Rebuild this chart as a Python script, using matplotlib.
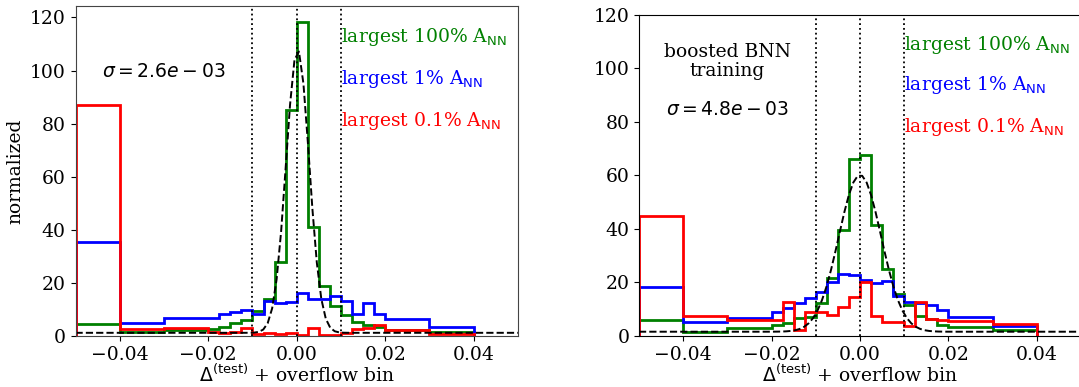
import numpy as np
import matplotlib
matplotlib.use("Agg")
import matplotlib.pyplot as plt

plt.rcParams["font.family"] = "DejaVu Serif"
plt.rcParams["mathtext.fontset"] = "dejavusans"
plt.rcParams["font.size"] = 13.5

# Variable-width bins; the first bin [-0.05, -0.04] collects the overflow
bin_edges = [-0.05, -0.04, -0.03, -0.02, -0.0175, -0.015, -0.0125, -0.01,
             -0.0075, -0.005, -0.0025, 0.0, 0.0025, 0.005, 0.0075, 0.01,
             0.0125, 0.015, 0.0175, 0.02, 0.03, 0.04]

# Standard training
std_all = [4.5, 1.5, 2.2, 2.8, 3.5, 4.8, 6.0, 9.5, 13.8, 28.0, 85.3,
           118.4, 41.2, 18.8, 11.3, 7.9, 5.4, 4.1, 3.5, 2.3, 1.6]
std_top1 = [35.5, 5.0, 6.7, 6.9, 8.1, 8.9, 9.8, 8.2, 13.2, 12.6, 12.7,
            16.3, 13.8, 13.9, 15.1, 13.3, 8.3, 12.3, 8.3, 6.3, 3.3]
std_top01 = [87.2, 2.5, 2.9, 1.6, 1.0, 1.6, 2.9, 0.6, 1.2, 0.6, 1.2,
             0.5, 3.0, 0.5, 0.5, 1.2, 2.5, 3.0, 4.2, 2.2, 0.8]
std_fit = dict(amplitude=106.7, mean=0.0002, sigma=2.6e-3, offset=1.2)

# Boosted BNN training
bst_all = [5.8, 1.5, 2.9, 4.1, 5.0, 6.6, 7.0, 12.5, 21.8, 39.6, 66.1,
           67.6, 41.5, 25.0, 15.8, 11.7, 7.6, 6.4, 4.1, 3.5, 2.3]
bst_top1 = [18.5, 5.2, 6.6, 9.1, 10.3, 12.2, 14.1, 16.6, 20.3, 23.2, 22.9,
            21.1, 19.7, 20.5, 15.0, 12.8, 12.4, 11.5, 9.6, 7.0, 3.7]
bst_top01 = [44.8, 7.5, 6.0, 6.0, 12.8, 2.2, 9.1, 9.1, 7.7, 11.0, 14.7,
             20.0, 7.5, 5.4, 5.4, 3.7, 12.8, 6.5, 6.0, 5.5, 4.5]
bst_fit = dict(amplitude=58.6, mean=0.0, sigma=4.8e-3, offset=1.6)

series_labels = [r"largest 100% A$_{\rm NN}$", r"largest 1% A$_{\rm NN}$",
                 r"largest 0.1% A$_{\rm NN}$"]
series_colors = ["green", "blue", "red"]
xticks = [-0.04, -0.02, 0.0, 0.02, 0.04]
yticks = [0, 20, 40, 60, 80, 100, 120]


def gauss(x, amplitude, mean, sigma, offset):
    return amplitude * np.exp(-0.5 * ((x - mean) / sigma) ** 2) + offset


def panel(ax, hists, fit, note=None, note_y=0.85, sigma_y=0.8, spine="black"):
    edges = np.array(bin_edges)
    centers = 0.5 * (edges[:-1] + edges[1:])
    for vals, col in zip(hists, series_colors):
        ax.hist(centers, bins=edges, weights=vals, histtype="step",
                color=col, lw=2)
    xs = np.linspace(-0.05, 0.05, 100)
    ax.plot(xs, gauss(xs, **fit), "k--", lw=1.4)
    for xv in (-0.01, 0.0, 0.01):
        ax.axvline(xv, color="black", ls=":", lw=1.3)
    ax.set_xlim(-0.05, 0.05)
    ax.set_xticks(xticks)
    ax.set_yticks(yticks)
    ax.set_xlabel(r"$\Delta^{\rm (test)}$ + overflow bin", labelpad=0)
    for y, lab, col in zip((0.89, 0.765, 0.637), series_labels, series_colors):
        ax.text(0.6, y, lab, color=col, transform=ax.transAxes,
                ha="left", va="baseline")
    if note:
        ax.text(0.2, note_y, note, transform=ax.transAxes, ha="center",
                va="center", linespacing=1.1)
    ax.text(0.2, sigma_y, r"$\sigma = %.1e$" % fit["sigma"],
            transform=ax.transAxes, ha="center", va="center",
            family="DejaVu Sans")
    for s in ax.spines.values():
        s.set_color(spine)


fig = plt.figure(figsize=(10.79, 3.87), dpi=100)
ax1 = fig.add_axes([0.070, 0.1318, 0.410, 0.8527])
ax2 = fig.add_axes([0.5922, 0.1318, 0.4096, 0.8295])

panel(ax1, [std_all, std_top1, std_top01], std_fit, spine="#444444")
ax1.set_ylim(bottom=0)
ax1.set_ylabel("normalized", labelpad=4)

panel(ax2, [bst_all, bst_top1, bst_top01], bst_fit,
      note="boosted BNN\ntraining", note_y=0.855, sigma_y=0.704)
ax2.set_ylim(0, 120)

fig.savefig("out.png", dpi=100)
